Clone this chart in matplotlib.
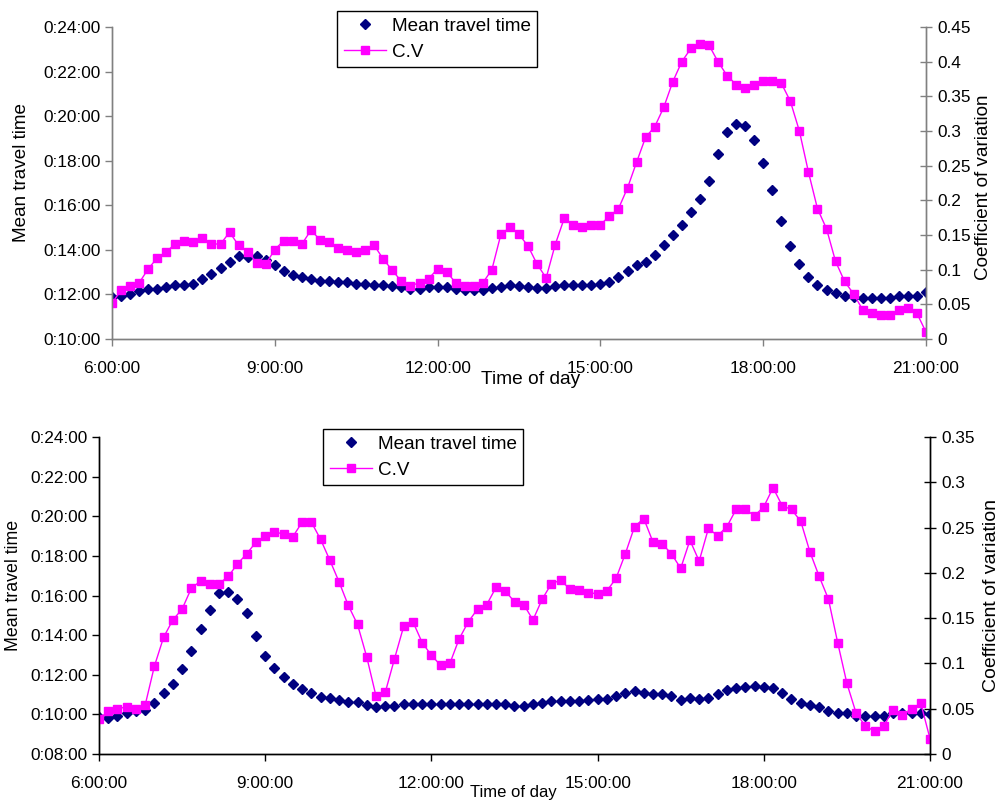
import numpy as np
import matplotlib
matplotlib.use("Agg")
import matplotlib.pyplot as plt
from matplotlib.ticker import FuncFormatter, MultipleLocator
from matplotlib.lines import Line2D

plt.rcParams['font.family'] = ['Liberation Sans', 'DejaVu Sans']

# time of day, minutes after midnight, one sample every 10 min (6:00 - 21:00)
time_min = np.arange(360, 1261, 10)

# upper chart: mean travel time (minutes) and coefficient of variation
mtt_top = [11.87, 11.91, 12.03, 12.17, 12.26, 12.26, 12.33, 12.41, 12.41, 12.48,
           12.69, 12.91, 13.18, 13.47, 13.71, 13.68, 13.71, 13.56, 13.30, 13.03,
           12.87, 12.77, 12.69, 12.62, 12.62, 12.54, 12.54, 12.48, 12.48, 12.44,
           12.44, 12.36, 12.33, 12.26, 12.26, 12.33, 12.33,
           12.33, 12.24, 12.21, 12.21, 12.18, 12.27, 12.33, 12.41, 12.36, 12.33,
           12.27, 12.27, 12.36, 12.42, 12.42, 12.41, 12.41, 12.48, 12.54, 12.78,
           13.03, 13.30, 13.45, 13.78, 14.23, 14.68, 15.11, 15.72, 16.29, 17.07,
           18.30, 19.31,
           19.66, 19.58, 18.94, 17.89, 16.70, 15.31, 14.16, 13.38, 12.77, 12.41,
           12.18, 12.06, 11.94, 11.87, 11.84, 11.84, 11.84, 11.84, 11.91, 11.91,
           11.91, 12.09]
cv_top = [0.052, 0.070, 0.076, 0.081, 0.101, 0.117, 0.126, 0.137, 0.142, 0.140,
          0.145, 0.137, 0.137, 0.154, 0.135, 0.126, 0.110, 0.108, 0.129, 0.142,
          0.142, 0.137, 0.157, 0.143, 0.140, 0.131, 0.129, 0.126, 0.129, 0.135,
          0.115, 0.099, 0.083, 0.077, 0.081, 0.087, 0.101,
          0.097, 0.081, 0.077, 0.077, 0.081, 0.100, 0.151, 0.161, 0.151, 0.134,
          0.108, 0.088, 0.136, 0.174, 0.165, 0.162, 0.165, 0.165, 0.177, 0.188,
          0.218, 0.255, 0.291, 0.306, 0.334, 0.371, 0.400, 0.419, 0.426, 0.424,
          0.400, 0.380,
          0.367, 0.362, 0.367, 0.372, 0.372, 0.369, 0.343, 0.300, 0.241, 0.188,
          0.159, 0.112, 0.083, 0.065, 0.042, 0.037, 0.035, 0.034, 0.042, 0.045,
          0.037, 0.010]

# lower chart
mtt_bot = [9.89, 9.84, 9.92, 10.05, 10.17, 10.22, 10.56, 11.06, 11.54, 12.28,
           13.20, 14.31, 15.27, 16.11, 16.20, 15.83, 15.14, 13.98, 12.95, 12.36,
           11.87, 11.54, 11.30, 11.06, 10.90, 10.81, 10.73, 10.64, 10.64, 10.47,
           10.39, 10.42, 10.42, 10.51, 10.51, 10.51, 10.51,
           10.51, 10.51, 10.51, 10.51, 10.51, 10.51, 10.51, 10.51, 10.42, 10.42,
           10.51, 10.59, 10.68, 10.68, 10.68, 10.68, 10.73, 10.79, 10.79, 10.93,
           11.06, 11.18, 11.10, 11.01, 11.01, 10.93, 10.73, 10.85, 10.76, 10.81,
           11.01, 11.23,
           11.35, 11.40, 11.45, 11.40, 11.35, 11.06, 10.76, 10.56, 10.46, 10.36,
           10.17, 10.09, 10.05, 9.92, 9.94, 9.94, 9.94, 10.05, 10.05, 10.05,
           10.09, 10.02]
cv_bot = [0.039, 0.047, 0.050, 0.052, 0.050, 0.054, 0.097, 0.129, 0.148, 0.160,
          0.183, 0.191, 0.188, 0.188, 0.196, 0.210, 0.221, 0.234, 0.241, 0.245,
          0.243, 0.240, 0.256, 0.256, 0.237, 0.214, 0.190, 0.164, 0.143, 0.107,
          0.064, 0.068, 0.105, 0.141, 0.146, 0.123, 0.109,
          0.098, 0.100, 0.127, 0.146, 0.160, 0.165, 0.184, 0.180, 0.168, 0.165,
          0.148, 0.171, 0.188, 0.192, 0.182, 0.181, 0.178, 0.177, 0.180, 0.194,
          0.221, 0.251, 0.260, 0.234, 0.232, 0.221, 0.205, 0.236, 0.213, 0.249,
          0.241, 0.251,
          0.270, 0.270, 0.263, 0.273, 0.294, 0.274, 0.270, 0.257, 0.223, 0.196,
          0.171, 0.123, 0.078, 0.045, 0.031, 0.025, 0.031, 0.049, 0.043, 0.050,
          0.056, 0.017]

NAVY = '#000080'
PINK = '#FF00FF'
W, H = 1000.0, 802.0

fig = plt.figure(figsize=(10, 8.02), dpi=100)


def px_axes(left, top, right, bottom):
    return fig.add_axes([left / W, 1 - bottom / H, (right - left) / W, (bottom - top) / H])


def draw(box, mtt, cv, ylims, cvmax, spine_col, leg_xy, lab):
    ax1 = px_axes(*box)
    ax2 = ax1.twinx()
    ax1.plot(time_min, mtt, ls='none', marker='D', ms=5.4, color=NAVY, mec=NAVY)
    ax2.plot(time_min, cv, ls='-', lw=1.0, marker='s', ms=6.3, color=PINK, mec=PINK)

    ax1.set_xlim(360, 1260)
    ax1.set_ylim(*ylims)
    ax2.set_ylim(0, cvmax)
    ax1.xaxis.set_major_locator(MultipleLocator(180))
    ax1.yaxis.set_major_locator(MultipleLocator(2))
    ax2.yaxis.set_major_locator(MultipleLocator(0.05))
    ax1.xaxis.set_major_formatter(FuncFormatter(lambda v, p: "%d:00:00" % (v // 60)))
    ax1.yaxis.set_major_formatter(FuncFormatter(lambda v, p: "0:%02d:00" % round(v)))
    ax2.yaxis.set_major_formatter(FuncFormatter(lambda v, p: "%g" % round(v, 2)))

    for a in (ax1, ax2):
        a.spines['top'].set_visible(False)
        for s in ('left', 'right', 'bottom'):
            a.spines[s].set_color(spine_col)
            a.spines[s].set_linewidth(1.0)
        a.set_facecolor('none')
    ax1.tick_params(axis='x', direction='out', length=5, width=1, color=spine_col,
                    labelsize=12.4, pad=10.5)
    ax1.tick_params(axis='y', direction='out', length=5, width=1, color=spine_col,
                    labelsize=12.4, pad=3)
    ax2.tick_params(axis='y', direction='inout', length=9, width=1, color=spine_col,
                    labelsize=12.4, pad=4)

    # axis titles placed like in the original
    fig.text(lab['x'][0] / W, 1 - lab['x'][1] / H, 'Time of day', ha='center',
             va='center', fontsize=lab['x'][2])
    fig.text(lab['y'][0] / W, 1 - lab['y'][1] / H, 'Mean travel time', ha='center',
             va='center', rotation=90, fontsize=lab['y'][2])
    fig.text(lab['r'][0] / W, 1 - lab['r'][1] / H, 'Coefficient of variation',
             ha='center', va='center', rotation=90, fontsize=lab['r'][2])

    handles = [Line2D([], [], ls='none', marker='D', ms=5.4, color=NAVY),
               Line2D([], [], ls='-', lw=1.0, marker='s', ms=6.3, color=PINK)]
    leg = fig.legend(handles, ['Mean travel time', 'C.V'], loc='upper left',
                     bbox_to_anchor=(leg_xy[0] / W, 1 - leg_xy[1] / H),
                     bbox_transform=fig.transFigure, fontsize=13.6, numpoints=1,
                     frameon=True, fancybox=False, shadow=False, framealpha=1,
                     edgecolor='black', borderpad=0.35, labelspacing=0.45,
                     handlelength=2.25, handletextpad=0.3, borderaxespad=0)
    leg.get_frame().set_linewidth(1.0)
    return ax1, ax2


draw((112, 27, 926, 339), mtt_top, cv_top, (10, 24), 0.45, '#808080', (337, 11),
     {'x': (531, 380, 13.8), 'y': (22, 173, 13.6), 'r': (983, 187, 13.6)})
draw((99, 437, 930, 754), mtt_bot, cv_bot, (8, 24), 0.35, 'black', (323, 429),
     {'x': (513, 792, 12), 'y': (14, 585, 12.8), 'r': (992, 596, 14)})

fig.savefig('out.png', dpi=100)
